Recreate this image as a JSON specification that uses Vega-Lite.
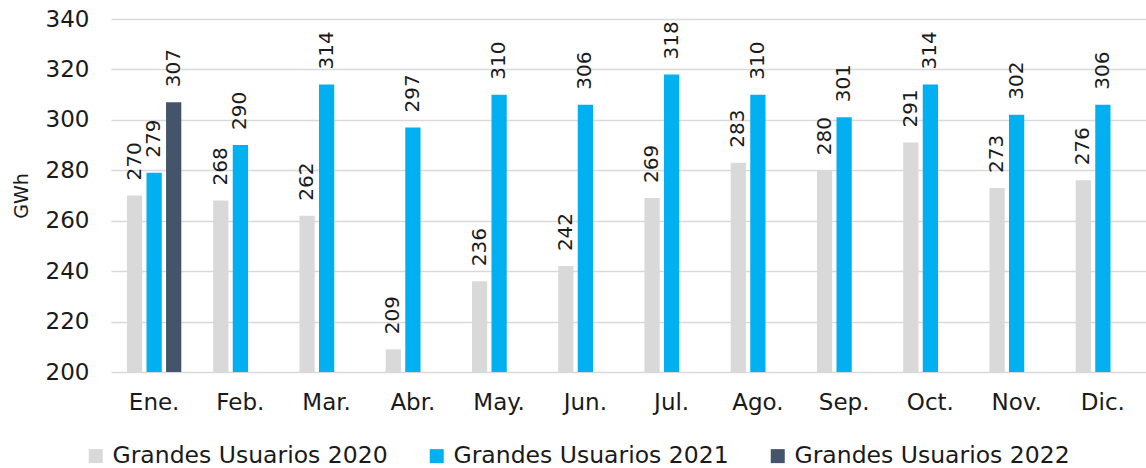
{
  "$schema": "https://vega.github.io/schema/vega-lite/v6.json",
  "autosize": {"type": "none"},
  "padding": {"left": 111, "top": 19, "right": 0, "bottom": 96},
  "width": 1035,
  "height": 353,
  "background": "white",
  "config": {
    "font": "DejaVu Sans",
    "view": {"stroke": null}
  },
  "data": {
    "values": [
      {"mes": "Ene.", "serie": "Grandes Usuarios 2020", "valor": 270},
      {"mes": "Ene.", "serie": "Grandes Usuarios 2021", "valor": 279},
      {"mes": "Ene.", "serie": "Grandes Usuarios 2022", "valor": 307},
      {"mes": "Feb.", "serie": "Grandes Usuarios 2020", "valor": 268},
      {"mes": "Feb.", "serie": "Grandes Usuarios 2021", "valor": 290},
      {"mes": "Mar.", "serie": "Grandes Usuarios 2020", "valor": 262},
      {"mes": "Mar.", "serie": "Grandes Usuarios 2021", "valor": 314},
      {"mes": "Abr.", "serie": "Grandes Usuarios 2020", "valor": 209},
      {"mes": "Abr.", "serie": "Grandes Usuarios 2021", "valor": 297},
      {"mes": "May.", "serie": "Grandes Usuarios 2020", "valor": 236},
      {"mes": "May.", "serie": "Grandes Usuarios 2021", "valor": 310},
      {"mes": "Jun.", "serie": "Grandes Usuarios 2020", "valor": 242},
      {"mes": "Jun.", "serie": "Grandes Usuarios 2021", "valor": 306},
      {"mes": "Jul.", "serie": "Grandes Usuarios 2020", "valor": 269},
      {"mes": "Jul.", "serie": "Grandes Usuarios 2021", "valor": 318},
      {"mes": "Ago.", "serie": "Grandes Usuarios 2020", "valor": 283},
      {"mes": "Ago.", "serie": "Grandes Usuarios 2021", "valor": 310},
      {"mes": "Sep.", "serie": "Grandes Usuarios 2020", "valor": 280},
      {"mes": "Sep.", "serie": "Grandes Usuarios 2021", "valor": 301},
      {"mes": "Oct.", "serie": "Grandes Usuarios 2020", "valor": 291},
      {"mes": "Oct.", "serie": "Grandes Usuarios 2021", "valor": 314},
      {"mes": "Nov.", "serie": "Grandes Usuarios 2020", "valor": 273},
      {"mes": "Nov.", "serie": "Grandes Usuarios 2021", "valor": 302},
      {"mes": "Dic.", "serie": "Grandes Usuarios 2020", "valor": 276},
      {"mes": "Dic.", "serie": "Grandes Usuarios 2021", "valor": 306}
    ]
  },
  "encoding": {
    "x": {
      "field": "mes",
      "type": "nominal",
      "sort": ["Ene.", "Feb.", "Mar.", "Abr.", "May.", "Jun.", "Jul.", "Ago.", "Sep.", "Oct.", "Nov.", "Dic."],
      "scale": {"paddingInner": 0.37, "paddingOuter": 0.185},
      "axis": {
        "title": null,
        "labelAngle": 0,
        "labelFontSize": 23,
        "labelColor": "#1a1a1a",
        "labelPadding": 19,
        "ticks": false,
        "domain": false
      }
    },
    "xOffset": {
      "field": "serie",
      "type": "nominal",
      "scale": {"domain": ["Grandes Usuarios 2020", "Grandes Usuarios 2021", "Grandes Usuarios 2022"], "paddingInner": 0.22, "paddingOuter": 0}
    },
    "y": {
      "field": "valor",
      "type": "quantitative",
      "scale": {"domain": [200, 340], "zero": false, "nice": false},
      "axis": {
        "title": "GWh",
        "titleFontSize": 19,
        "titleFontWeight": "normal",
        "titleColor": "#1a1a1a",
        "titlePadding": 14,
        "values": [200, 220, 240, 260, 280, 300, 320, 340],
        "labelFontSize": 23,
        "labelColor": "#1a1a1a",
        "labelPadding": 22,
        "ticks": false,
        "domain": false,
        "grid": true,
        "gridColor": "#D9D9D9",
        "gridWidth": 1.5
      }
    }
  },
  "layer": [
    {
      "mark": {"type": "bar"},
      "encoding": {
        "y2": {"datum": 200},
        "color": {
          "field": "serie",
          "type": "nominal",
          "scale": {
            "domain": ["Grandes Usuarios 2020", "Grandes Usuarios 2021", "Grandes Usuarios 2022"],
            "range": ["#D9D9D9", "#00B0F0", "#44546A"]
          },
          "legend": {
            "title": null,
            "orient": "none",
            "direction": "horizontal",
            "legendX": -27,
            "legendY": 425,
            "symbolType": "square",
            "symbolSize": 196,
            "symbolStrokeWidth": 0,
            "labelFontSize": 23.5,
            "labelColor": "#1a1a1a",
            "labelOffset": 5,
            "columnPadding": 37,
            "labelLimit": 400
          }
        }
      }
    },
    {
      "mark": {"type": "text", "angle": 270, "align": "left", "baseline": "middle", "dx": 15, "fontSize": 20, "color": "#1a1a1a"},
      "encoding": {
        "text": {"field": "valor", "type": "quantitative"}
      }
    }
  ]
}
